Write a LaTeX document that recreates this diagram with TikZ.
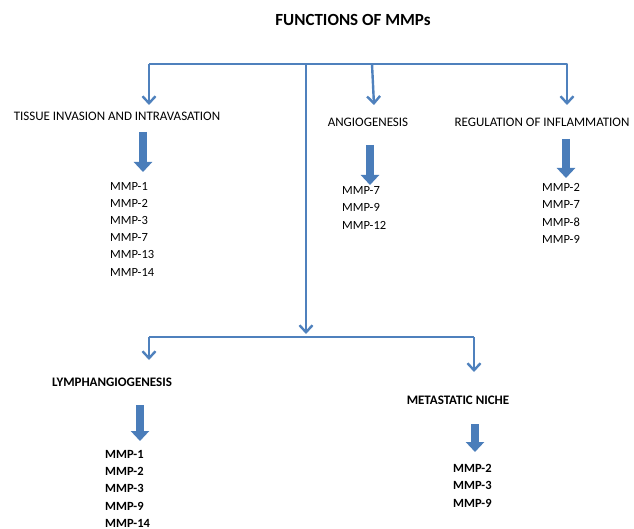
\documentclass[tikz,border=0pt]{standalone}
\usepackage{fontspec}
\setmainfont{Carlito}
\usetikzlibrary{arrows.meta}
\definecolor{mmpblue}{HTML}{4F81BD}
\definecolor{mmpfill}{HTML}{4A7DBA}
\tikzset{
    branch/.style={draw=mmpblue, line width=2.4pt, line join=round},
    branchtip/.style={branch, -{Straight Barb[length=7pt,width=13pt]}},
    fatarrow/.style={draw=mmpfill, line width=8pt, -{Triangle[length=10pt,width=18pt]}},
    heading/.style={inner sep=0pt, font=\fontsize{13}{15}\selectfont},
    mmp/.style={inner sep=0pt, anchor=west, font=\fontsize{12.5}{15}\selectfont}
}

\begin{document}
\begin{tikzpicture}[x=1pt,y=-1pt]
    \useasboundingbox (0,0) rectangle (634,529);

    % Title
    \node[inner sep=0pt, font=\fontsize{17}{20}\selectfont\bfseries] (title) at (353,20) {FUNCTIONS OF MMPs};

    % Top branches
    \coordinate (topleft) at (149,64);
    \coordinate (topright) at (567,64);
    \coordinate (topmid) at (306,64);
    \coordinate (topangio) at (372,64);
    \coordinate (tiptissue) at (149,105);
    \coordinate (tipangio) at (374,105);
    \coordinate (tipinfl) at (567,105);
    \coordinate (midend) at (306,334);
    \draw[branchtip] (tiptissue |- topleft) -- (topright) -- (tipinfl);
    \draw[branchtip] (topleft) -- (tiptissue);
    \draw[branchtip] (topangio) -- (tipangio);
    \draw[branchtip] (topmid) -- (midend);

    % Top labels
    \node[heading] (tissue) at (117,116) {TISSUE INVASION AND INTRAVASATION};
    \node[heading] (angio) at (368,122) {ANGIOGENESIS};
    \node[heading] (infl) at (542,122) {REGULATION OF INFLAMMATION};

    % Top lists
    \foreach \m [count=\i] in {1,2,3,7,13,14}
        \node[mmp] (tissue-\i) at (110,186+17.2*\i-17.2) {MMP-\m};
    \foreach \m [count=\i] in {7,9,12}
        \node[mmp] (angio-\i) at (342,190+17.8*\i-17.8) {MMP-\m};
    \foreach \m [count=\i] in {2,7,8,9}
        \node[mmp] (infl-\i) at (542,187+17.6*\i-17.6) {MMP-\m};

    % Fat arrows (top)
    \coordinate (ft1) at (143,132);
    \coordinate (ft2) at (143,172);
    \coordinate (fa1) at (370,145);
    \coordinate (fa2) at (370,185);
    \coordinate (fi1) at (566,139);
    \coordinate (fi2) at (566,178);
    \draw[fatarrow] (ft1) -- (ft2);
    \draw[fatarrow] (fa1) -- (fa2);
    \draw[fatarrow] (fi1) -- (fi2);

    % Bottom branches
    \coordinate (botleft) at (149,337);
    \coordinate (botright) at (474,337);
    \coordinate (tiplymph) at (149,360);
    \coordinate (tipniche) at (474,372);
    \draw[branch] (botleft) -- (botright);
    \draw[branchtip] (botleft) -- (tiplymph);
    \draw[branchtip] (botright) -- (tipniche);

    % Bottom labels
    \node[heading, font=\fontsize{13}{15}\selectfont\bfseries] (lymph) at (112,382) {LYMPHANGIOGENESIS};
    \node[heading, font=\fontsize{13}{15}\selectfont\bfseries] (niche) at (458,400) {METASTATIC NICHE};

    % Bottom lists
    \foreach \m [count=\i] in {1,2,3,9,14}
        \node[mmp, font=\fontsize{12.5}{15}\selectfont\bfseries] (lymph-\i) at (105,454+17.3*\i-17.3) {MMP-\m};
    \foreach \m [count=\i] in {2,3,9}
        \node[mmp, font=\fontsize{12.5}{15}\selectfont\bfseries] (niche-\i) at (453,468+17.5*\i-17.5) {MMP-\m};

    % Fat arrows (bottom)
    \coordinate (fl1) at (140,405);
    \coordinate (fl2) at (140,441);
    \coordinate (fn1) at (475,424);
    \coordinate (fn2) at (475,452);
    \draw[fatarrow] (fl1) -- (fl2);
    \draw[fatarrow] (fn1) -- (fn2);
\end{tikzpicture}
\end{document}
